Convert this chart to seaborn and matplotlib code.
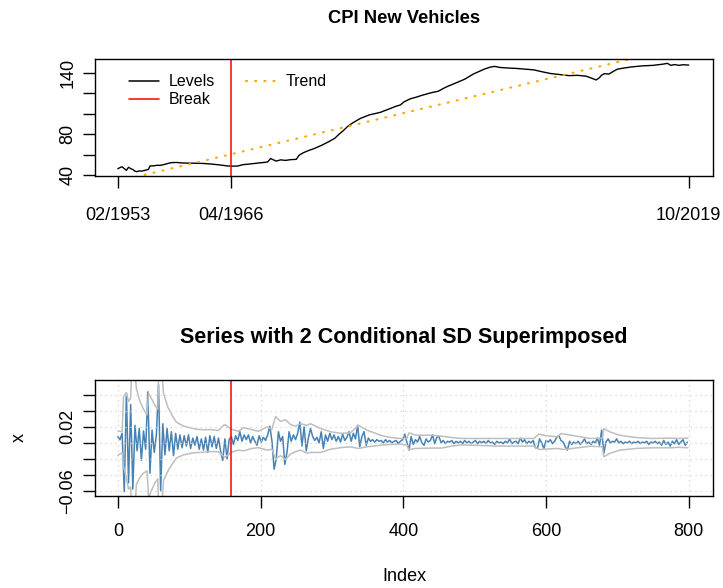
import numpy as np
import pandas as pd
import matplotlib
matplotlib.use("Agg")
import matplotlib.pyplot as plt
import seaborn as sns
from matplotlib.lines import Line2D

sns.set_theme(style="white")
plt.rcParams['font.family'] = ['Liberation Sans', 'DejaVu Sans']
for k in ["text.color", "axes.labelcolor", "xtick.color", "ytick.color", "axes.edgecolor"]:
    plt.rcParams[k] = "black"

# ---------------- top panel data ----------------
date_ticks = [0, 158, 800]
date_labels = ["02/1953", "04/1966", "10/2019"]
break_idx = 158
level_ticks = [40, 60, 80, 100, 120, 140]
level_tick_labels = ["40", "", "80", "", "", "140"]

level_idx = [0, 3, 6, 9, 12, 15, 18, 21, 24, 27, 30, 33, 36, 40, 43, 45, 50, 55, 60, 65,
             70, 75, 82, 90, 100, 110, 120, 130, 140, 148, 155, 162, 168, 175, 185, 195,
             205, 210, 214, 218, 222, 228, 235, 242, 250, 254, 260, 267, 275, 285, 295,
             304, 310, 316, 322, 328, 334, 340, 346, 352, 360, 368, 378, 389, 396, 401,
             410, 418, 425, 432, 440, 449, 456, 462, 474, 486, 498, 506, 514, 522, 528,
             535, 545, 559, 571, 583, 595, 607, 620, 632, 644, 656, 664, 670, 674, 678,
             682, 688, 694, 700, 710, 720, 735, 750, 765, 770, 775, 780, 786, 792, 800]
level_val = [46.3, 47.5, 48.3, 46.5, 44.8, 47.8, 46.5, 45.6, 44.0, 43.5, 44.3, 44.0, 44.5,
             45.2, 45.8, 49.0, 49.2, 49.7, 49.7, 50.5, 51.5, 52.3, 52.5, 52.0, 51.8, 51.7,
             51.5, 51.0, 50.3, 49.6, 49.0, 48.9, 49.0, 50.3, 51.0, 51.8, 52.5, 53.0, 56.3,
             55.0, 53.8, 55.0, 54.5, 55.2, 55.5, 59.5, 62.0, 64.0, 66.0, 69.0, 72.5, 76.0,
             80.0, 83.5, 87.5, 90.5, 93.0, 95.4, 97.0, 98.7, 100.0, 101.3, 104.0, 107.0,
             108.5, 111.5, 114.5, 116.0, 117.6, 119.0, 120.5, 121.8, 124.5, 126.5, 130.0,
             133.5, 138.5, 141.0, 143.5, 145.3, 146.0, 145.0, 144.5, 144.0, 143.3, 142.6,
             140.7, 139.0, 138.0, 137.0, 137.3, 136.5, 134.5, 132.8, 134.5, 137.5, 139.0,
             138.5, 141.0, 143.3, 144.5, 145.5, 146.5, 147.0, 148.3, 149.0, 147.0, 147.8,
             147.0, 147.6, 147.3]
trend_idx = [0, 800]
trend_val = [34.2, 166.7]

# ---------------- bottom panel data ----------------
ret_step = 3
ret_permille = [
    8, 4, 12, -61, 62, -50, 48, -58, 22, -10,
    18, -22, 15, -8, 64, -38, 16, -12, 10, 73,
    -60, 24, -15, 18, -10, 14, -16, 12, -8, 10,
    -6, 9, -4, 10, -7, 6, -3, 8, -8, 5,
    -9, 7, -12, 9, -5, 8, -7, 6, -10, -22,
    5, -20, 4, 8, -2, 9, 3, 14, 2, 10,
    4, 10, 0, 8, 2, -3, 9, 1, 7, 3,
    10, 21, 2, -33, -20, 14, 2, 8, -27, -12,
    14, 2, 10, 4, 12, 26, -4, 20, -10, 6,
    18, 8, 3, 7, 0, 14, -7, 10, 2, 12,
    4, 10, 2, 8, 1, 11, 3, 7, 14, 2,
    12, 5, 22, -5, 8, 14, -3, 6, 2, 4,
    1, 4, 2, 3, 0, 4, 1, 3, 0, 2,
    3, -1, 2, 4, 11, 1, -9, 8, -2, 4,
    1, 8, 0, -3, 5, 1, 3, 10, -1, 7,
    8, 0, 3, -1, 2, 1, 3, -1, 2, 0,
    2, -1, 3, 0, 2, -1, 1, 3, -1, 2,
    0, 2, -1, 3, 0, 1, -2, 2, 0, 1,
    -1, 2, 0, 5, -1, 1, 2, -1, 6, 1,
    4, -1, 2, 0, 3, -6, -7, 5, 0, -7,
    3, 1, 4, -1, 2, 7, 9, 3, 1, -5,
    -9, 2, -2, 1, -1, 2, -2, 1, 5, -1,
    1, -2, 2, 0, 6, -3, 16, -13, 1, 5,
    0, 2, 1, 5, 0, 2, -1, 1, 0, 2,
    -1, 1, 0, 2, -1, 1, 0, 2, -2, 1,
    0, 2, -1, 1, -3, 3, -2, 1, -4, 2,
    -1, 4, -2, 1, 4, -3, 1]

band_up_idx = [0, 6, 8, 12, 15, 18, 20, 23, 26, 31, 36, 41, 43, 48, 52, 56, 58, 60, 64, 70,
               77, 82, 92, 101, 110, 120, 131, 141, 147, 150, 159, 169, 176, 188, 197, 209,
               216, 221, 228, 235, 242, 249, 256, 265, 270, 284, 298, 312, 326, 337, 349,
               368, 382, 396, 405, 408, 417, 440, 454, 468, 482, 529, 583, 590, 600, 616,
               621, 635, 662, 679, 681, 689, 703, 726, 749, 775, 785, 799]
band_up_permille = [15, 14, 58, 63, 52, 56, 110, 100, 68, 52, 42, 35, 62, 54, 47, 42, 115,
                    105, 62, 45, 33, 26, 21, 19, 17, 16.5, 16.5, 15.5, 21, 23, 17, 14.5, 19,
                    16.5, 14.5, 20, 17, 33, 27, 29, 23, 21, 24, 22, 24, 18, 14, 12, 12.5, 22,
                    16, 9.6, 6.7, 5.5, 5.5, 12.5, 9.6, 9.6, 8.3, 6.7, 5.5, 5.5, 5.5, 11, 9,
                    7.5, 11.7, 9.6, 5.5, 6, 18, 14, 9.6, 6.7, 5.5, 6, 5.5, 6]
band_lo_idx = [0, 6, 8, 11, 15, 18, 20, 23, 26, 31, 36, 41, 43, 46, 52, 56, 58, 60, 64, 71,
               78, 82, 92, 106, 129, 141, 147, 150, 159, 169, 176, 188, 197, 209, 216, 221,
               228, 235, 242, 249, 256, 265, 270, 284, 298, 312, 326, 337, 349, 368, 382,
               396, 405, 408, 417, 440, 454, 468, 482, 529, 583, 590, 616, 625, 662, 679,
               681, 689, 703, 726, 749, 775, 785, 799]
band_lo_permille = [-16, -12, -30, -40, -58, -55, -110, -100, -52, -43, -38, -35, -70, -62,
                    -50, -45, -115, -105, -47, -34, -24, -19, -15, -12.5, -11, -11, -16, -18,
                    -12, -9, -10, -7, -6, -9, -8, -20, -16, -21, -14, -11, -9, -13, -12, -12,
                    -8, -6, -5, -7, -5, -3, -2, -1.5, -2.5, -8.5, -7, -6.5, -6.5, -4, -2.5,
                    -4, -4, -8.3, -7, -8.3, -4.2, -5, -17.5, -13.3, -9.2, -7, -6.2, -6.2,
                    -5.5, -6.2]
ret_ticks = [-0.06, -0.04, -0.02, 0.0, 0.02, 0.04, 0.06]
ret_tick_labels = ["\u22120.06", "", "", "", "0.02", "", ""]
index_ticks = [0, 200, 400, 600, 800]

# ---------------- build frames ----------------
lev_df = pd.DataFrame({"idx": level_idx, "val": level_val})
trend_df = pd.DataFrame({"idx": trend_idx, "val": trend_val})
ret = np.array(ret_permille) / 1000.0
ret_df = pd.DataFrame({"idx": np.arange(len(ret)) * ret_step, "val": ret})
up_df = pd.DataFrame({"idx": band_up_idx, "val": np.array(band_up_permille) / 1000.0})
lo_df = pd.DataFrame({"idx": band_lo_idx, "val": np.array(band_lo_permille) / 1000.0})

W, H = 723, 588
fig = plt.figure(figsize=(W / 100, H / 100), dpi=100)
fig.patch.set_facecolor("white")

def box(l, t, r, b):
    return [l / W, 1 - b / H, (r - l) / W, (b - t) / H]

ax1 = fig.add_axes(box(95, 59, 713, 176))
ax2 = fig.add_axes(box(95, 380, 713, 496))

TICK_FS = 13
for ax in (ax1, ax2):
    ax.set_facecolor("white")
    for s in ax.spines.values():
        s.set_visible(True)
        s.set_color("black")
        s.set_linewidth(1.0)
    ax.tick_params(axis="both", direction="out", length=8.5, width=1.0,
                   colors="black", labelsize=TICK_FS, left=True, bottom=True)
    ax.set_xlim(-32, 834)

DOTS = (0, (0.5, 3.9))

# ---- top panel ----
sns.lineplot(data=lev_df, x="idx", y="val", ax=ax1, color="black", linewidth=1.0,
             estimator=None, sort=False)
sns.lineplot(data=trend_df, x="idx", y="val", ax=ax1, color="#FFA500", linewidth=1.5,
             estimator=None, sort=False, linestyle=DOTS, dash_capstyle="round")
ax1.axvline(break_idx, color="#FF0000", linewidth=1.1)
ax1.set_ylim(39.3, 153.2)
ax1.set_yticks(level_ticks)
ax1.set_yticklabels(level_tick_labels, rotation=90, va="center")
ax1.set_xticks(date_ticks)
ax1.set_xticklabels(date_labels)
ax1.tick_params(axis="x", pad=14)
ax1.tick_params(axis="y", pad=5)
ax1.set_xlabel("")
ax1.set_ylabel("")
ax1.set_title("CPI New Vehicles", fontsize=13.2, fontweight="bold", pad=26)

handles = [Line2D([], [], color="black", lw=1.1),
           Line2D([], [], color="#FF0000", lw=1.1),
           Line2D([], [], color="#FFA500", lw=1.5, linestyle=DOTS,
                  dash_capstyle="round")]
ax1.legend(handles, ["Levels", "Break", "Trend"], ncol=2, loc="upper left",
           bbox_to_anchor=(0.055, 0.87), frameon=False, fontsize=11.5,
           handlelength=1.9, handletextpad=0.6, columnspacing=1.9,
           labelspacing=0.2, borderaxespad=0, borderpad=0)

# ---- bottom panel ----
sns.lineplot(data=ret_df, x="idx", y="val", ax=ax2, color="#4682B4", linewidth=1.1,
             estimator=None, sort=False)
sns.lineplot(data=up_df, x="idx", y="val", ax=ax2, color="#BEBEBE", linewidth=1.1,
             estimator=None, sort=False)
sns.lineplot(data=lo_df, x="idx", y="val", ax=ax2, color="#BEBEBE", linewidth=1.1,
             estimator=None, sort=False)
for t in index_ticks:
    ax2.axvline(t, color="#D3D3D3", linewidth=0.9, linestyle=(0, (1, 3)))
for t in ret_ticks:
    ax2.axhline(t, color="#D3D3D3", linewidth=0.9, linestyle=(0, (1, 3)))
ax2.axvline(break_idx + 1, color="#FF0000", linewidth=1.1)
ax2.set_ylim(-0.0666, 0.0788)
ax2.set_yticks(ret_ticks)
ax2.set_yticklabels(ret_tick_labels, rotation=90, va="center")
ax2.set_xticks(index_ticks)
ax2.set_xticklabels([str(t) for t in index_ticks])
ax2.tick_params(axis="x", pad=11)
ax2.tick_params(axis="y", pad=5)
ax2.set_xlabel("Index", fontsize=TICK_FS)
ax2.xaxis.set_label_coords(0.5, (496 - 568) / 116)
ax2.set_ylabel("x", fontsize=TICK_FS)
ax2.yaxis.set_label_coords((28 - 95) / 618, 0.5)
ax2.set_title("Series with 2 Conditional SD Superimposed", fontsize=15.5,
              fontweight="bold", pad=27)

fig.savefig("out.png", dpi=100, facecolor="white")
